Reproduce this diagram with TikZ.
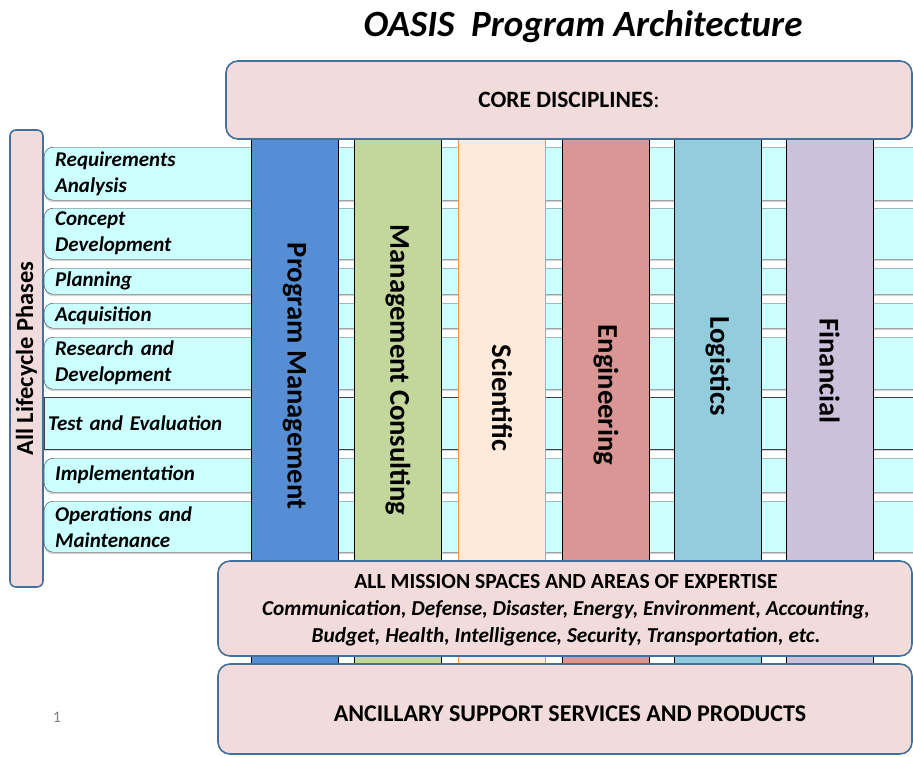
\documentclass[tikz,border=0pt]{standalone}
\usepackage{fontspec}
\setmainfont{Carlito}
\usepackage{tikz}
\usetikzlibrary{shapes, calc, shadows}

\definecolor{boxfill}{HTML}{F2DCDB}
\definecolor{boxline}{HTML}{41719C}
\definecolor{rowfill}{HTML}{CCFFFF}
\definecolor{pmblue}{HTML}{558ED5}
\definecolor{mcgreen}{HTML}{C3D69B}
\definecolor{scipeach}{HTML}{FDEADA}
\definecolor{sciedge}{HTML}{F79646}
\definecolor{engred}{HTML}{D99694}
\definecolor{logblue}{HTML}{93CDDD}
\definecolor{finlilac}{HTML}{CCC1DA}

\tikzset{
	frame/.style={draw=boxline, line width=1.6pt, fill=boxfill,
		rounded corners=12pt, inner sep=0pt, align=center},
	phase/.style={draw=black!75, fill=rowfill, rounded corners=9pt,
		anchor=north west, inner xsep=11pt, inner ysep=0pt,
		text width=870pt, align=left,
		font=\fontsize{21}{26}\selectfont\bfseries\itshape,
		drop shadow={shadow xshift=0pt, shadow yshift=-2pt, opacity=0.35}},
	discipline/.style={draw=black, minimum width=87pt,
		minimum height=527pt, inner sep=0pt},
	vlabel/.style={rotate=-90, font=\fontsize{28.6}{30}\selectfont\bfseries},
}

\begin{document}
\begin{tikzpicture}[x=1pt, y=-1pt]
	\def \coly {401.5}
	
	\useasboundingbox (0,0) rectangle (913,756);
	\clip (0,0) rectangle (913,756);
	
	\node[font=\fontsize{37}{40}\selectfont\bfseries\itshape] (title)
		at (583,27) {OASIS\ \ Program Architecture};
	
	\node[phase, minimum height=53pt] (reqs)   at (44,147)
		{Requirements\\Analysis};
	\node[phase, minimum height=51pt] (concept) at (44,208)
		{Concept\\Development};
	\node[phase, minimum height=26pt] (planning) at (44,268)
		{Planning};
	\node[phase, minimum height=25pt] (acquisition) at (44,303)
		{Acquisition};
	\node[phase, minimum height=52pt] (research) at (44,337)
		{Research and\\Development};
	\node[phase, sharp corners, inner xsep=4pt, minimum height=52pt] (testeval) at (44,397)
		{Test and Evaluation};
	\node[phase, minimum height=34pt] (implement) at (44,458)
		{Implementation};
	\node[phase, minimum height=51pt] (operations) at (44,501)
		{Operations and\\Maintenance};
	
	\node[discipline, fill=pmblue]   (progmgmt)   at (294.5,\coly) {};
	\node[discipline, fill=mcgreen]  (mgmtcons)   at (398,\coly)   {};
	\node[discipline, fill=scipeach, draw=sciedge] (scientific) at (502,\coly) {};
	\node[discipline, fill=engred]   (engineering) at (606,\coly)  {};
	\node[discipline, fill=logblue]  (logistics)  at (718,\coly)   {};
	\node[discipline, fill=finlilac] (financial)  at (829.5,\coly) {};
	
	\node[vlabel] (progmgmtlabel)    at (progmgmt |- 0,376)    {Program Management};
	\node[vlabel] (mgmtconslabel)    at (mgmtcons |- 0,370)    {Management Consulting};
	\node[vlabel] (scientificlabel)  at (scientific |- 0,398)  {Scientific};
	\node[vlabel] (engineeringlabel) at (engineering |- 0,395) {Engineering};
	\node[vlabel] (logisticslabel)   at (logistics |- 0,366)   {Logistics};
	\node[vlabel] (financiallabel)   at (financial |- 0,371)   {Financial};
	
	\node[frame, minimum width=686pt, minimum height=78pt,
		font=\fontsize{23.4}{28}\selectfont] (core) at (569,100)
		{\textbf{CORE DISCIPLINES}:};
	\node[frame, minimum width=694pt, minimum height=95pt] (mission) at (565,608.5) {};
	\node[font=\fontsize{21.3}{27}\selectfont\bfseries, align=center] (missionlabel)
		at (566,610.5)
		{\fontsize{21.6}{27}\selectfont ALL MISSION SPACES AND AREAS OF EXPERTISE\\
		\textit{Communication, Defense, Disaster, Energy, Environment, Accounting,}\\
		\textit{Budget, Health, Intelligence, Security, Transportation, etc.}};
	\node[frame, minimum width=694pt, minimum height=90pt] (ancillary) at (565,709) {};
	\node[font=\fontsize{24}{28}\selectfont\bfseries] (ancillarylabel) at (570,714)
		{ANCILLARY SUPPORT SERVICES AND PRODUCTS};
	
	\node[frame, rounded corners=6pt, minimum width=33pt, minimum height=457pt]
		(lifecycle) at (26.5,358.5) {};
	\node[rotate=90, font=\fontsize{24.5}{26}\selectfont\bfseries] (lifecyclelabel)
		at (lifecycle.center) {All Lifecycle Phases};
	
	\node[text=gray, font=\fontsize{16}{18}\selectfont] (pagenum) at (57,717) {1};
\end{tikzpicture}
\end{document}
